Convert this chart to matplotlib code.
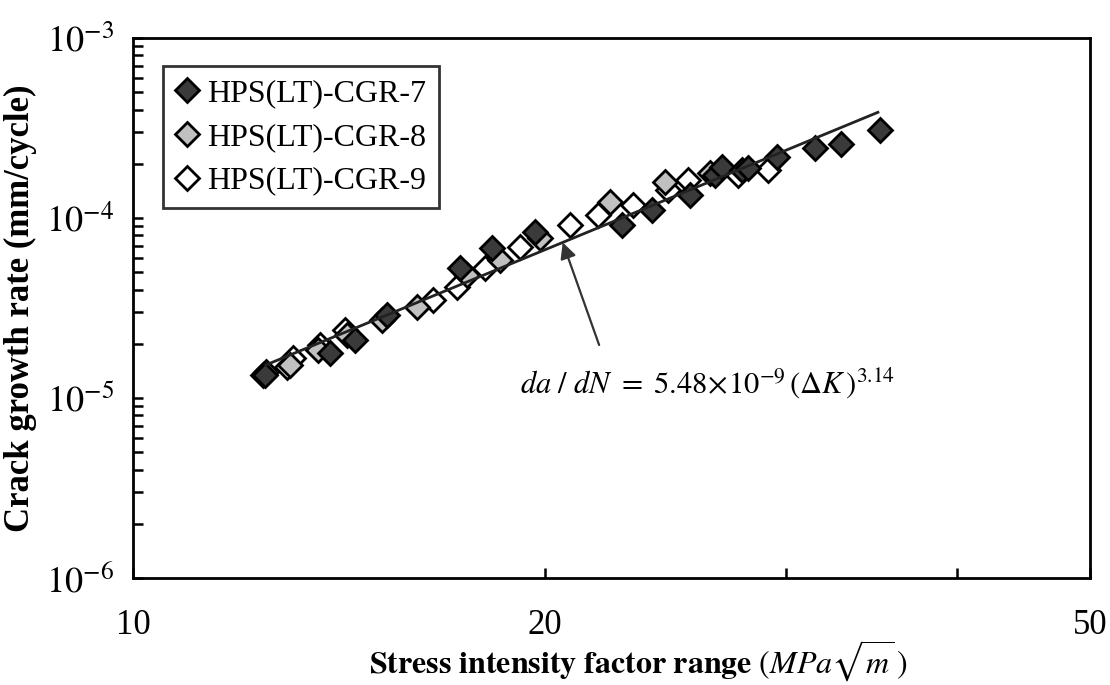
import numpy as np
import matplotlib
matplotlib.use("Agg")
import matplotlib.pyplot as plt
from matplotlib.ticker import FixedLocator, LogLocator, NullFormatter

plt.rcParams["font.family"] = ["Liberation Serif", "DejaVu Serif"]
plt.rcParams["mathtext.fontset"] = "stix"

# Specimen data: stress intensity factor range (MPa*sqrt(m)) vs. crack growth rate (mm/cycle)
cgr7_dk = [12.49, 13.93, 14.53, 15.33, 17.33, 18.29, 19.66, 22.76, 23.94, 25.51,
           26.61, 26.92, 27.86, 28.13, 29.53, 31.48, 32.89, 35.13]
cgr7_rate = [1.34e-5, 1.78e-5, 2.10e-5, 2.89e-5, 5.28e-5, 6.81e-5, 8.36e-5, 9.15e-5, 1.11e-4, 1.34e-4,
             1.73e-4, 1.92e-4, 1.85e-4, 1.90e-4, 2.18e-4, 2.45e-4, 2.58e-4, 3.08e-4]

cgr8_dk = [12.51, 13.02, 13.65, 14.33, 15.20, 16.12, 17.54, 18.54, 19.83, 22.30, 24.47, 26.39]
cgr8_rate = [1.39e-5, 1.53e-5, 1.85e-5, 2.24e-5, 2.71e-5, 3.20e-5, 4.83e-5, 5.85e-5, 7.74e-5,
             1.23e-4, 1.58e-4, 1.78e-4]

cgr9_dk = [12.45, 12.95, 13.09, 13.70, 14.28, 16.56, 17.24, 18.07, 19.17, 20.85, 21.86,
           23.19, 24.59, 25.43, 27.67, 29.09]
cgr9_rate = [1.34e-5, 1.49e-5, 1.67e-5, 1.97e-5, 2.39e-5, 3.50e-5, 4.14e-5, 5.28e-5, 6.90e-5,
             9.15e-5, 1.04e-4, 1.18e-4, 1.43e-4, 1.63e-4, 1.73e-4, 1.85e-4]

series_labels = ["HPS(LT)-CGR-7", "HPS(LT)-CGR-8", "HPS(LT)-CGR-9"]

# Paris-law fit: da/dN = C * (dK)^m
paris_C = 5.48e-9
paris_m = 3.14
fit_range = [12.5, 35.0]

x_ticks = [10, 20, 30, 40, 50]
x_ticklabels = ["10", "20", "", "", "50"]
y_ticks = [1e-6, 1e-5, 1e-4, 1e-3]
y_ticklabels = [r"$10^{-6}$", r"$10^{-5}$", r"$10^{-4}$", r"$10^{-3}$"]

fig = plt.figure(figsize=(11.10, 6.85), dpi=100)
ax = fig.add_axes([133 / 1110, 1 - 578 / 685, (1090 - 133) / 1110, (578 - 38) / 685])

marker_kw = dict(linestyle="none", marker="D", markersize=12.5, markeredgecolor="black",
                 markeredgewidth=2.0)
ax.plot(cgr9_dk, cgr9_rate, markerfacecolor="white", label=series_labels[2], zorder=3, **marker_kw)
ax.plot(cgr8_dk, cgr8_rate, markerfacecolor="#c0c0c0", label=series_labels[1], zorder=4, **marker_kw)
ax.plot(cgr7_dk, cgr7_rate, markerfacecolor="#3a3a3a", label=series_labels[0], zorder=5, **marker_kw)

k_fit = np.geomspace(fit_range[0], fit_range[1], 50)
ax.plot(k_fit, paris_C * k_fit ** paris_m, color="#222222", linewidth=2.0, zorder=6)

ax.set_xscale("log")
ax.set_yscale("log")
ax.set_xlim(10, 50)
ax.set_ylim(1e-6, 1e-3)

ax.xaxis.set_major_locator(FixedLocator(x_ticks))
ax.set_xticklabels(x_ticklabels)
ax.xaxis.set_minor_locator(FixedLocator([]))
ax.xaxis.set_minor_formatter(NullFormatter())

ax.yaxis.set_major_locator(FixedLocator(y_ticks))
ax.set_yticklabels(y_ticklabels)
ax.yaxis.set_minor_locator(LogLocator(base=10, subs=np.arange(2, 10)))
ax.yaxis.set_minor_formatter(NullFormatter())

ax.tick_params(axis="both", which="both", direction="in", width=1.8, length=7,
               top=False, right=False)
ax.tick_params(axis="x", which="major", labelsize=25, pad=22)
ax.tick_params(axis="y", which="major", labelsize=26, pad=14)
for sp in ax.spines.values():
    sp.set_linewidth(2.0)
    sp.set_color("black")

ax.set_ylabel("Crack growth rate (mm/cycle)", fontsize=25, fontweight="bold", labelpad=6)
ax.set_xlabel(r"$\mathbf{Stress\ intensity\ factor\ range}\ (MPa\sqrt{m}\,)$", fontsize=23)
ax.xaxis.set_label_coords(0.528, -0.155)
ax.xaxis.label.set_verticalalignment("center")

handles, labels = ax.get_legend_handles_labels()
order = [2, 1, 0]
leg = ax.legend([handles[i] for i in order], [labels[i] for i in order],
                loc="upper left", bbox_to_anchor=(0.031, 0.948), fontsize=23,
                frameon=True, fancybox=False, edgecolor="black", handlelength=0.7,
                handletextpad=0.3, labelspacing=0.45, borderpad=0.4, borderaxespad=0.0)
leg.get_frame().set_linewidth(2.0)

arrow_k = 20.6
ax.annotate("", xy=(arrow_k, paris_C * arrow_k ** paris_m), xytext=(21.9, 1.97e-5),
            arrowprops=dict(arrowstyle="-|>", color="#333333", lw=1.6,
                            mutation_scale=24, shrinkA=0, shrinkB=0), zorder=7)
ax.text(26.3, 1.21e-5,
        r"$da\ /\ dN\ =\ 5.48\!\times\!10^{-9}\,(\Delta K\,)^{3.14}$",
        fontsize=22, ha="center", va="center")

fig.savefig("out.png", dpi=100)
